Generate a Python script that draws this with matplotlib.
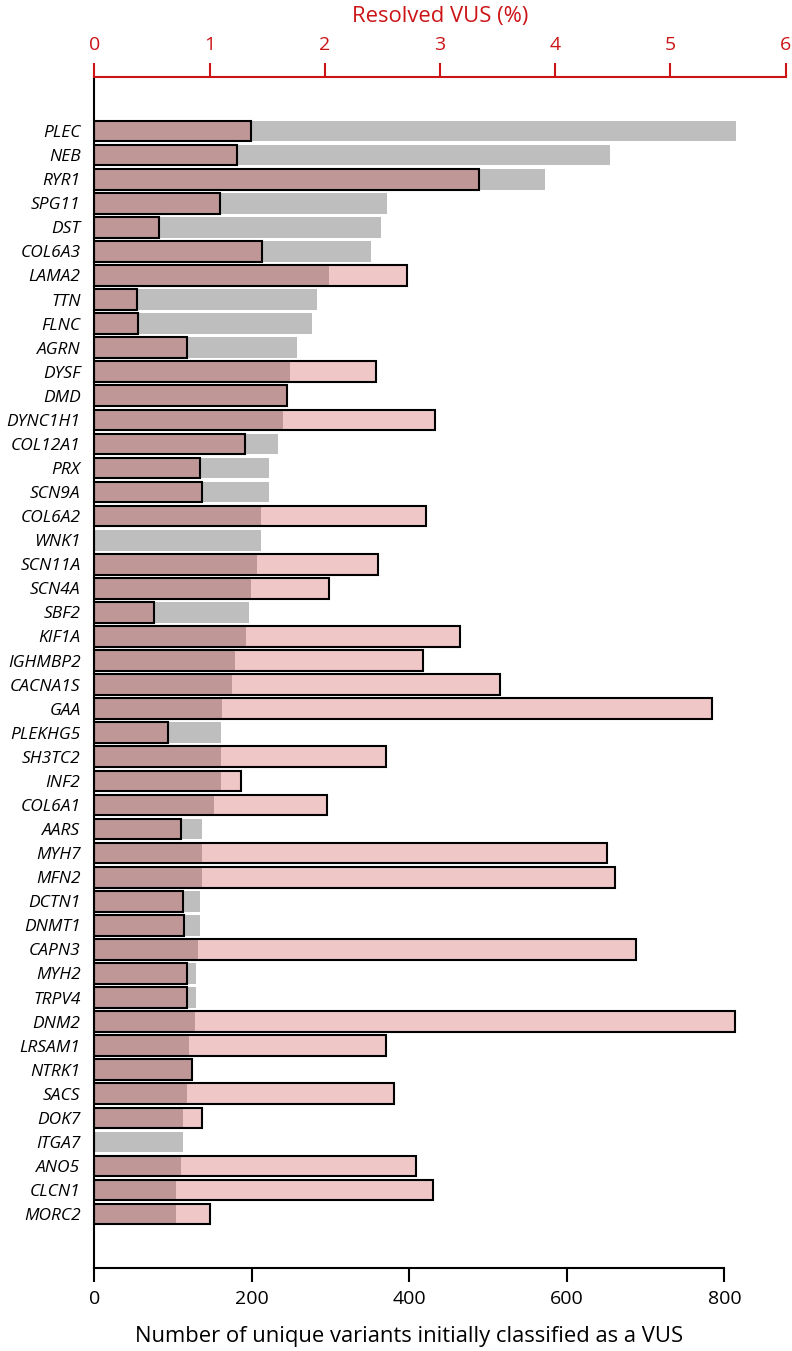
import matplotlib
matplotlib.use("Agg")
import matplotlib.pyplot as plt
import numpy as np

plt.rcParams['font.family'] = ['Open Sans', 'DejaVu Sans']

genes = ["PLEC", "NEB", "RYR1", "SPG11", "DST", "COL6A3", "LAMA2", "TTN", "FLNC", "AGRN",
         "DYSF", "DMD", "DYNC1H1", "COL12A1", "PRX", "SCN9A", "COL6A2", "WNK1", "SCN11A", "SCN4A",
         "SBF2", "KIF1A", "IGHMBP2", "CACNA1S", "GAA", "PLEKHG5", "SH3TC2", "INF2", "COL6A1", "AARS",
         "MYH7", "MFN2", "DCTN1", "DNMT1", "CAPN3", "MYH2", "TRPV4", "DNM2", "LRSAM1", "NTRK1",
         "SACS", "DOK7", "ITGA7", "ANO5", "CLCN1", "MORC2"]

vus_counts = [814, 655, 572, 371, 364, 351, 298, 283, 276, 257,
              248, 244, 240, 233, 222, 221, 212, 212, 207, 199,
              196, 193, 179, 174, 162, 161, 161, 161, 152, 137,
              137, 136, 134, 134, 131, 129, 129, 128, 120, 124,
              118, 112, 112, 110, 104, 104]

resolved_pct = [1.36, 1.24, 3.34, 1.09, 0.56, 1.45, 2.71, 0.37, 0.38, 0.80,
                2.44, 1.67, 2.96, 1.31, 0.92, 0.93, 2.88, 0.0, 2.46, 2.04,
                0.52, 3.17, 2.85, 3.52, 5.36, 0.64, 2.53, 1.27, 2.02, 0.755,
                4.45, 4.52, 0.77, 0.78, 4.70, 0.80, 0.80, 5.56, 2.53, 0.85,
                2.60, 0.93, 0.0, 2.79, 2.94, 1.0]

count_ticks = [0, 200, 400, 600, 800]
pct_ticks = [0, 1, 2, 3, 4, 5, 6]

RED = '#cc1417'
GREY = '#bebebe'
PINK_RGBA = (195 / 255, 35 / 255, 35 / 255, 0.25)
COUNT_MAX = 877.7

fig = plt.figure(figsize=(7.92, 13.51), dpi=100)
ax = fig.add_axes([0.1193, 0.0614, 0.8727, 0.8815])

y = np.arange(len(genes))
ax.barh(y, vus_counts, height=0.86, color=GREY, linewidth=0)
ax.set_xlim(0, COUNT_MAX)
ax.set_ylim(len(genes) - 1 + 2.24, -2.24)
ax.set_yticks(y)
ax.set_yticklabels(genes, fontstyle='italic', fontsize=12.5)
ax.tick_params(axis='y', length=0, pad=10)
ax.set_xticks(count_ticks)
ax.tick_params(axis='x', length=10, width=1.5, pad=6, labelsize=14, colors='black')
ax.set_xlabel('Number of unique variants initially classified as a VUS', fontsize=15.8)
ax.xaxis.set_label_coords(400 / COUNT_MAX, -0.049)
for s in ['top', 'right']:
    ax.spines[s].set_visible(False)
ax.spines['left'].set_linewidth(1.5)
ax.spines['bottom'].set_linewidth(1.5)
ax.spines['bottom'].set_bounds(0, 800)

ax2 = ax.twiny()
ax2.barh(y, resolved_pct, height=0.86, facecolor=PINK_RGBA, edgecolor='black', linewidth=1.5)
ax2.set_xlim(0, 6)
ax2.set_xticks(pct_ticks)
ax2.tick_params(axis='x', length=10, width=1.5, pad=7, labelsize=14, colors=RED)
ax2.set_xlabel('Resolved VUS (%)', fontsize=15.8, color=RED, labelpad=10)
for s in ['bottom', 'left', 'right']:
    ax2.spines[s].set_visible(False)
ax2.spines['top'].set_color(RED)
ax2.spines['top'].set_linewidth(1.5)

fig.savefig('out.png', dpi=100)
